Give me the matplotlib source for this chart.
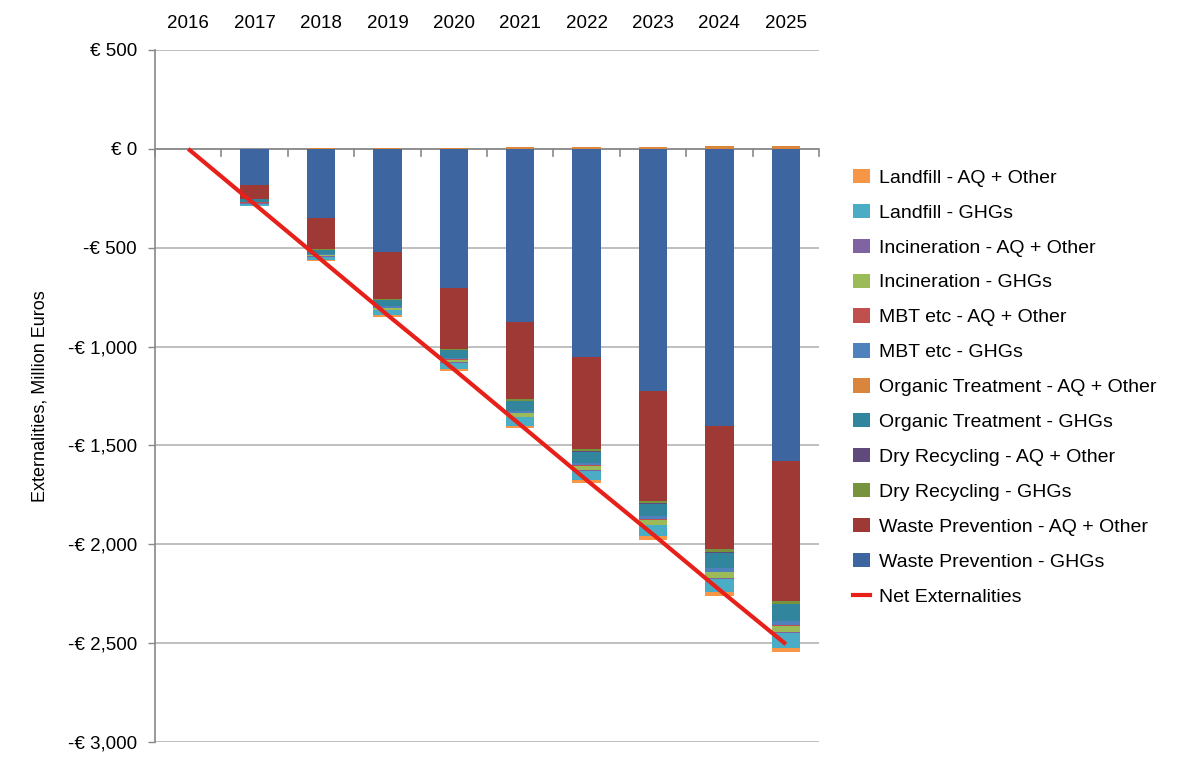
import matplotlib
matplotlib.use("Agg")
import matplotlib.pyplot as plt
import numpy as np
from matplotlib.lines import Line2D
from matplotlib.patches import Patch

years = ["2016", "2017", "2018", "2019", "2020", "2021", "2022", "2023", "2024", "2025"]

# series in stacking order (first = nearest zero)
wp_ghg = [0, -182, -350, -522, -705, -875, -1053, -1225, -1403, -1580]
wp_aq = [0, -71, -156, -238, -305, -390, -467, -555, -622, -705]
dry_ghg = [0, -2, -4, -5, -7, -9, -10, -12, -14, -15]
dry_aq = [0, -1, -1, -1, -1, -2, -2, -2, -3, -3]
org_ghg = [0, -12, -20, -30, -38, -48, -56, -64, -78, -85]
org_aq = [0, 1, 2, 4, 6, 7, 9, 10, 12, 15]
mbt_ghg = [0, -3, -5, -7, -9, -11, -13, -15, -18, -20]
mbt_aq = [0, -1, -1, -2, -2, -3, -3, -4, -4, -5]
inc_ghg = [0, -4, -7, -10, -13, -17, -20, -23, -28, -30]
inc_aq = [0, -1, -1, -2, -2, -3, -3, -4, -4, -5]
lf_ghg = [0, -10, -17, -25, -33, -42, -49, -56, -69, -75]
lf_aq = [0, -2, -5, -7, -10, -12, -14, -16, -18, -20]
net = [0, -280, -560, -840, -1115, -1395, -1675, -1950, -2230, -2505]

series = [
    ("Waste Prevention - GHGs", wp_ghg, "#3d65a0"),
    ("Waste Prevention - AQ + Other", wp_aq, "#9e3935"),
    ("Dry Recycling - GHGs", dry_ghg, "#77933c"),
    ("Dry Recycling - AQ + Other", dry_aq, "#604a7b"),
    ("Organic Treatment - GHGs", org_ghg, "#31859c"),
    ("Organic Treatment - AQ + Other", org_aq, "#d9853b"),
    ("MBT etc - GHGs", mbt_ghg, "#4f81bd"),
    ("MBT etc - AQ + Other", mbt_aq, "#c0504d"),
    ("Incineration - GHGs", inc_ghg, "#9bbb59"),
    ("Incineration - AQ + Other", inc_aq, "#8064a2"),
    ("Landfill - GHGs", lf_ghg, "#4bacc6"),
    ("Landfill - AQ + Other", lf_aq, "#f79646"),
]

plt.rcParams['font.family'] = ['Liberation Sans', 'DejaVu Sans']

fig = plt.figure(figsize=(11.92, 7.62), dpi=100)
ax = fig.add_axes([155/1192, 1 - 742/762, (819-155)/1192, (742-50)/762])

x = np.arange(len(years))
pos_bottom = np.zeros(len(years))
neg_bottom = np.zeros(len(years))
for name, vals, col in series:
    v = np.array(vals, dtype=float)
    b = np.where(v >= 0, pos_bottom, neg_bottom)
    ax.bar(x, v, width=0.43, bottom=b, color=col, zorder=2)
    pos_bottom += np.where(v >= 0, v, 0)
    neg_bottom += np.where(v < 0, v, 0)

ax.plot(x, net, color="#e8201a", linewidth=3, zorder=3, solid_capstyle="butt")

ax.set_xlim(-0.5, 9.5)
ax.set_ylim(-3000, 500)
yt = np.arange(-3000, 501, 500)
ax.set_yticks(yt)
def fmt(v):
    if v == 0:
        return "€ 0"
    s = "€ {:,}".format(abs(int(v)))
    return ("-" + s) if v < 0 else s
ax.set_yticklabels([fmt(v) for v in yt], fontsize=13.5)
ax.yaxis.grid(True, color="#b4b4b4", linewidth=1.2, zorder=0)
ax.set_axisbelow(True)

ax.set_xticks(x)
ax.set_xticklabels(years, fontsize=13.5)
ax.xaxis.tick_top()
ax.tick_params(axis="x", length=0, pad=13)
ax.tick_params(axis="y", length=5, color="#888888", width=1, pad=8)

for s in ["top", "right", "bottom"]:
    ax.spines[s].set_visible(False)
ax.spines["left"].set_color("#888888")
ax.spines["left"].set_linewidth(1.2)

# category axis line at zero with tick marks at boundaries
ax.axhline(0, color="#888888", linewidth=1.2, zorder=1)
for b in np.arange(-0.5, 10.0, 1.0):
    ax.plot([b, b], [0, -35], color="#888888", linewidth=1.2, zorder=1, clip_on=False)

ax.set_ylabel("Externalities, Million Euros", fontsize=13, labelpad=14)

handles = []
for name, vals, col in series[::-1]:
    handles.append(Patch(facecolor=col, label=name))
handles.append(Line2D([0], [0], color="#e8201a", linewidth=3, label="Net Externalities"))
leg = fig.legend(handles=handles, loc="upper left", bbox_to_anchor=(845/1192, 1 - 161/762),
                 frameon=False, fontsize=14, handlelength=0.9, handleheight=0.75,
                 handletextpad=0.45, labelspacing=0.875, borderaxespad=0)

fig.savefig("out.png", dpi=100)
